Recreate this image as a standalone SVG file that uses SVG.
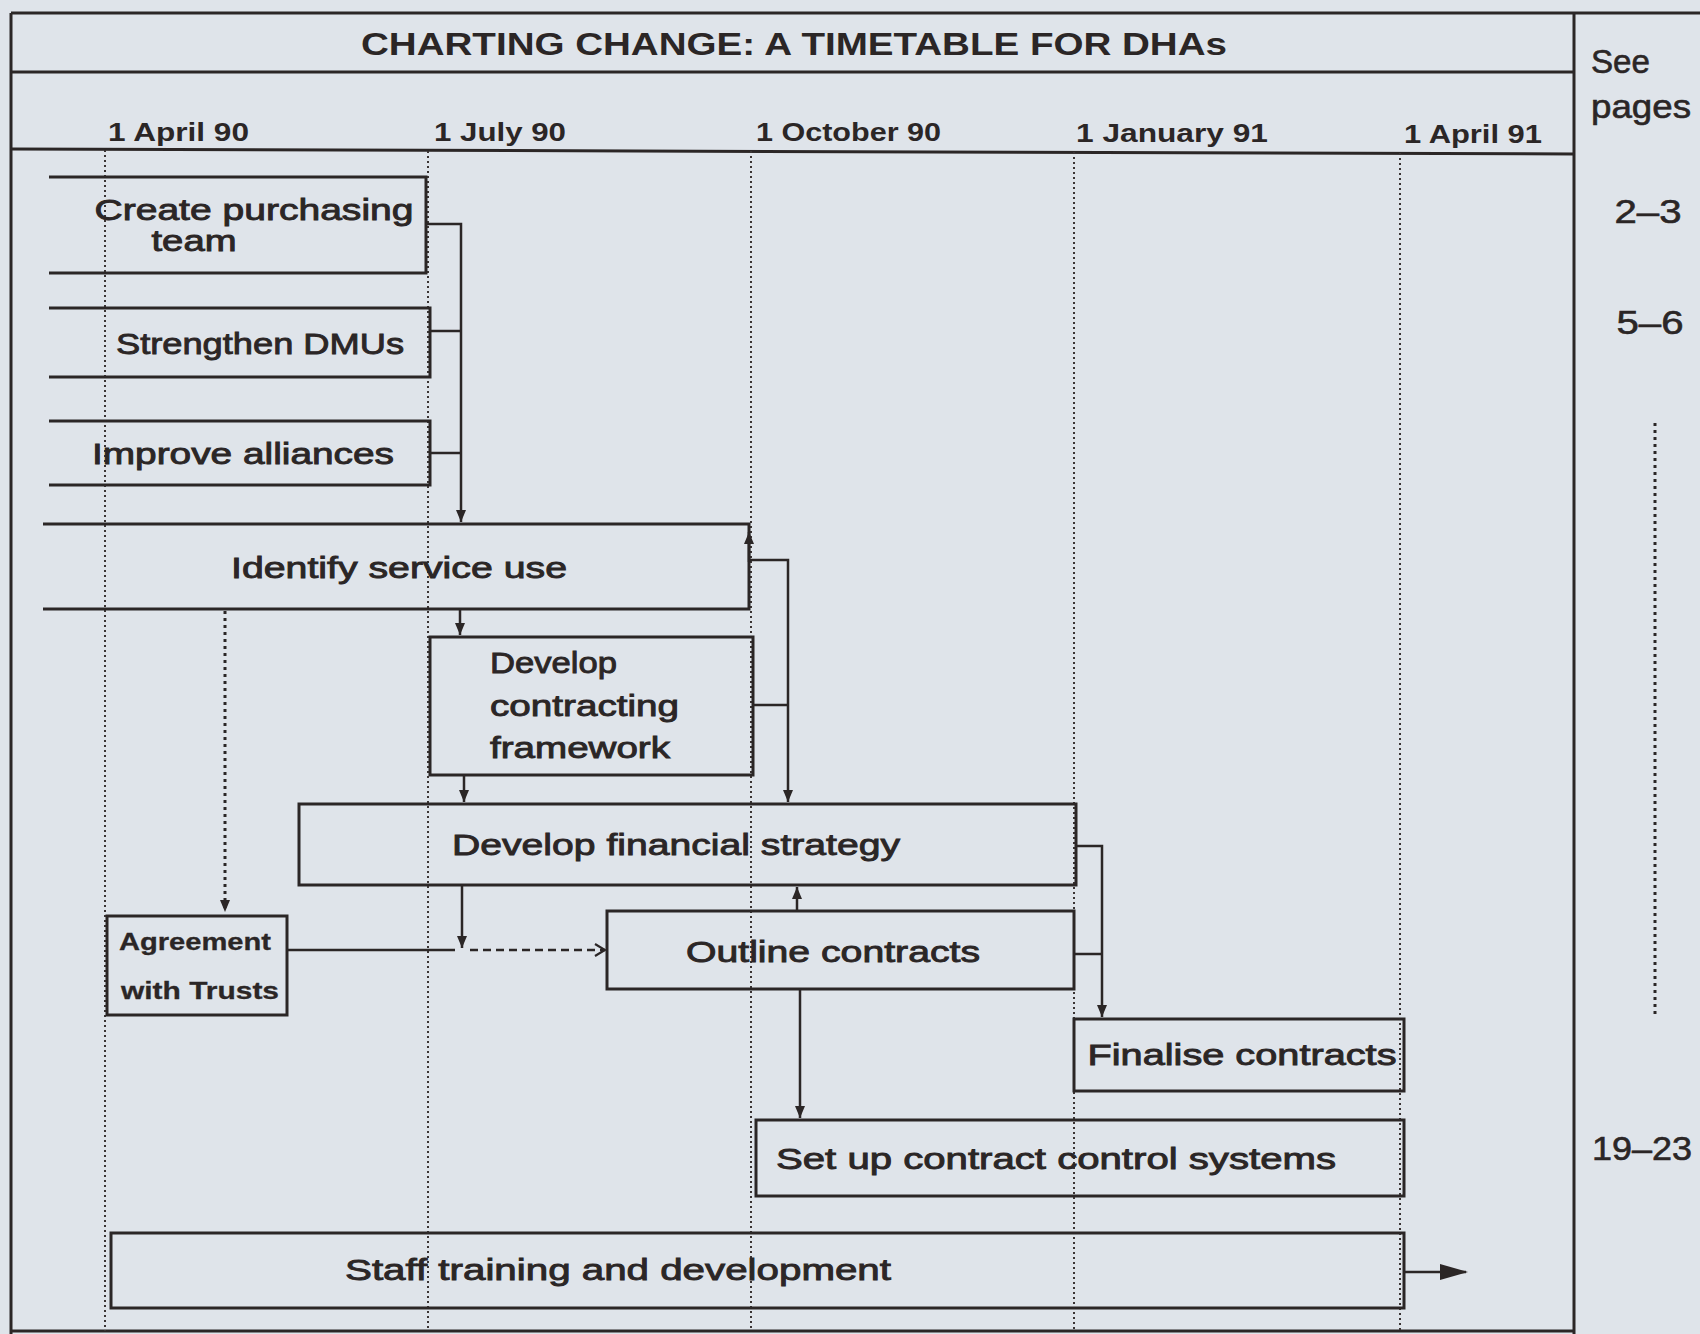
<svg xmlns="http://www.w3.org/2000/svg" width="1700" height="1334" viewBox="0 0 1700 1334">
<defs>
<marker id="ah" markerWidth="14" markerHeight="12" refX="13" refY="6" orient="auto" markerUnits="userSpaceOnUse" viewBox="0 0 14 12">
<path d="M1,1 L13,6 L1,11 Z" fill="#2b2626"/>
</marker>
<marker id="open" markerWidth="16" markerHeight="16" refX="14" refY="8" orient="auto" markerUnits="userSpaceOnUse" viewBox="0 0 16 16">
<path d="M4,2 L14,8 L4,14" fill="none" stroke="#2b2626" stroke-width="2.2"/>
</marker>
<marker id="big" markerWidth="28" markerHeight="20" refX="26" refY="10" orient="auto" markerUnits="userSpaceOnUse" viewBox="0 0 28 20">
<path d="M0,2 L28,10 L0,18 Z" fill="#2b2626"/>
</marker>
</defs>
<style>
.frame{fill:none;stroke:#2b2626;stroke-width:3}
.box{fill:none;stroke:#2b2626;stroke-width:3}
.grid{stroke:#3a3434;stroke-width:2;stroke-dasharray:2 3}
.conn{fill:none;stroke:#2b2626;stroke-width:2.5}
.dots{fill:none;stroke:#2b2626;stroke-width:3;stroke-dasharray:3 4}
.t{font-family:"Liberation Sans","DejaVu Sans",sans-serif;font-size:30px;fill:#2b2626;stroke:#2b2626;stroke-width:0.9;text-anchor:middle}
.tl{text-anchor:start}
.d{font-family:"Liberation Sans","DejaVu Sans",sans-serif;font-size:25px;font-weight:bold;fill:#2b2626}
.title{font-family:"Liberation Sans","DejaVu Sans",sans-serif;font-size:31px;font-weight:bold;fill:#2b2626;text-anchor:middle}
.side{font-family:"Liberation Sans","DejaVu Sans",sans-serif;font-size:33px;fill:#2b2626;stroke:#2b2626;stroke-width:0.6}
</style>
<rect x="0" y="0" width="1700" height="1334" fill="#dfe4ea"/>

<g id="frame">
<line class="frame" x1="11" y1="13" x2="1700" y2="13"/>
<line class="frame" x1="11" y1="13" x2="11" y2="1334"/>
<line class="frame" x1="1574" y1="13" x2="1574" y2="1334"/>
<line class="frame" x1="11" y1="72" x2="1574" y2="72"/>
<line class="frame" x1="11" y1="149" x2="1574" y2="154"/>
<line class="frame" x1="11" y1="1331" x2="1574" y2="1331"/>
<text class="title" x="794" y="55" textLength="866" lengthAdjust="spacingAndGlyphs">CHARTING CHANGE: A TIMETABLE FOR DHAs</text>
</g>

<g id="timeline">
<text class="d" x="108" y="141" textLength="141" lengthAdjust="spacingAndGlyphs">1 April 90</text>
<text class="d" x="434" y="141" textLength="132" lengthAdjust="spacingAndGlyphs">1 July 90</text>
<text class="d" x="756" y="141" textLength="185" lengthAdjust="spacingAndGlyphs">1 October 90</text>
<text class="d" x="1076" y="142" textLength="192" lengthAdjust="spacingAndGlyphs">1 January 91</text>
<text class="d" x="1404" y="143" textLength="138" lengthAdjust="spacingAndGlyphs">1 April 91</text>
<line class="grid" x1="105" y1="150" x2="105" y2="1331"/>
<line class="grid" x1="428" y1="151" x2="428" y2="1331"/>
<line class="grid" x1="751" y1="151" x2="751" y2="1331"/>
<line class="grid" x1="1074" y1="152" x2="1074" y2="1331"/>
<line class="grid" x1="1400" y1="153" x2="1400" y2="1331"/>
</g>

<g id="pages">
<text class="side" x="1591" y="73" textLength="59" lengthAdjust="spacingAndGlyphs">See</text>
<text class="side" x="1591" y="118" textLength="100" lengthAdjust="spacingAndGlyphs">pages</text>
<text class="side" x="1648" y="223" text-anchor="middle" textLength="67" lengthAdjust="spacingAndGlyphs">2–3</text>
<text class="side" x="1650" y="334" text-anchor="middle" textLength="67" lengthAdjust="spacingAndGlyphs">5–6</text>
<line class="dots" x1="1655" y1="423" x2="1655" y2="1014"/>
<text class="side" x="1642" y="1160" text-anchor="middle" textLength="100" lengthAdjust="spacingAndGlyphs">19–23</text>
</g>

<g id="n-create">
<path class="box" d="M49,177 H426 V273 H49"/>
<text class="t" x="254" y="220" textLength="319" lengthAdjust="spacingAndGlyphs">Create purchasing</text>
<text class="t" x="194" y="251" textLength="85" lengthAdjust="spacingAndGlyphs">team</text>
</g>
<g id="n-dmus">
<path class="box" d="M49,308 H430 V377 H49"/>
<text class="t" x="260" y="354" textLength="288" lengthAdjust="spacingAndGlyphs">Strengthen DMUs</text>
</g>
<g id="n-alliances">
<path class="box" d="M49,421 H430 V485 H49"/>
<text class="t" x="243" y="464" textLength="302" lengthAdjust="spacingAndGlyphs">Improve alliances</text>
</g>
<g id="n-identify">
<path class="box" d="M43,524 H749 V609 H43"/>
<text class="t" x="399" y="578" textLength="336" lengthAdjust="spacingAndGlyphs">Identify service use</text>
</g>
<g id="n-framework">
<rect class="box" x="430" y="637" width="323" height="138"/>
<text class="t tl" x="490" y="673" textLength="127" lengthAdjust="spacingAndGlyphs">Develop</text>
<text class="t tl" x="490" y="716" textLength="189" lengthAdjust="spacingAndGlyphs">contracting</text>
<text class="t tl" x="490" y="758" textLength="180" lengthAdjust="spacingAndGlyphs">framework</text>
</g>
<g id="n-financial">
<rect class="box" x="299" y="804" width="777" height="81"/>
<text class="t" x="676" y="855" textLength="448" lengthAdjust="spacingAndGlyphs">Develop financial strategy</text>
</g>
<g id="n-agreement">
<rect class="box" x="107" y="916" width="180" height="99"/>
<text class="t tl" x="119" y="950" style="font-size:24px;font-weight:bold;stroke-width:0.3" textLength="152" lengthAdjust="spacingAndGlyphs">Agreement</text>
<text class="t tl" x="121" y="999" style="font-size:24px;font-weight:bold;stroke-width:0.3" textLength="158" lengthAdjust="spacingAndGlyphs">with Trusts</text>
</g>
<g id="n-outline">
<rect class="box" x="607" y="911" width="467" height="78"/>
<text class="t" x="833" y="962" textLength="294" lengthAdjust="spacingAndGlyphs">Outline contracts</text>
</g>
<g id="n-finalise">
<rect class="box" x="1074" y="1019" width="330" height="72"/>
<text class="t" x="1242" y="1065" textLength="309" lengthAdjust="spacingAndGlyphs">Finalise contracts</text>
</g>
<g id="n-setup">
<rect class="box" x="756" y="1120" width="648" height="76"/>
<text class="t" x="1056" y="1169" textLength="560" lengthAdjust="spacingAndGlyphs">Set up contract control systems</text>
</g>
<g id="n-staff">
<rect class="box" x="111" y="1233" width="1293" height="75"/>
<text class="t" x="618" y="1280" textLength="546" lengthAdjust="spacingAndGlyphs">Staff training and development</text>
</g>

<g id="connectors">
<path class="conn" d="M426,224 H461 V522" marker-end="url(#ah)"/>
<path class="conn" d="M430,331 H461"/>
<path class="conn" d="M430,453 H461"/>
<path class="conn" d="M749,562 V532" marker-end="url(#ah)"/>
<path class="conn" d="M749,560 H788 V802" marker-end="url(#ah)"/>
<path class="conn" d="M753,705 H788"/>
<path class="conn" d="M460,609 V635" marker-end="url(#ah)"/>
<path class="dots" d="M225,611 V912" marker-end="url(#ah)"/>
<path class="conn" d="M464,775 V802" marker-end="url(#ah)"/>
<path class="conn" d="M462,885 V948" marker-end="url(#ah)"/>
<path class="conn" d="M287,950 H455"/>
<path class="conn" d="M470,950 H605" stroke-dasharray="8 5" marker-end="url(#open)"/>
<path class="conn" d="M797,911 V887" marker-end="url(#ah)"/>
<path class="conn" d="M1076,846 H1102 V1017" marker-end="url(#ah)"/>
<path class="conn" d="M1074,954 H1102"/>
<path class="conn" d="M800,989 V1118" marker-end="url(#ah)"/>
<path class="conn" d="M1404,1272 H1466" stroke-width="3" marker-end="url(#big)"/>
</g>
</svg>
